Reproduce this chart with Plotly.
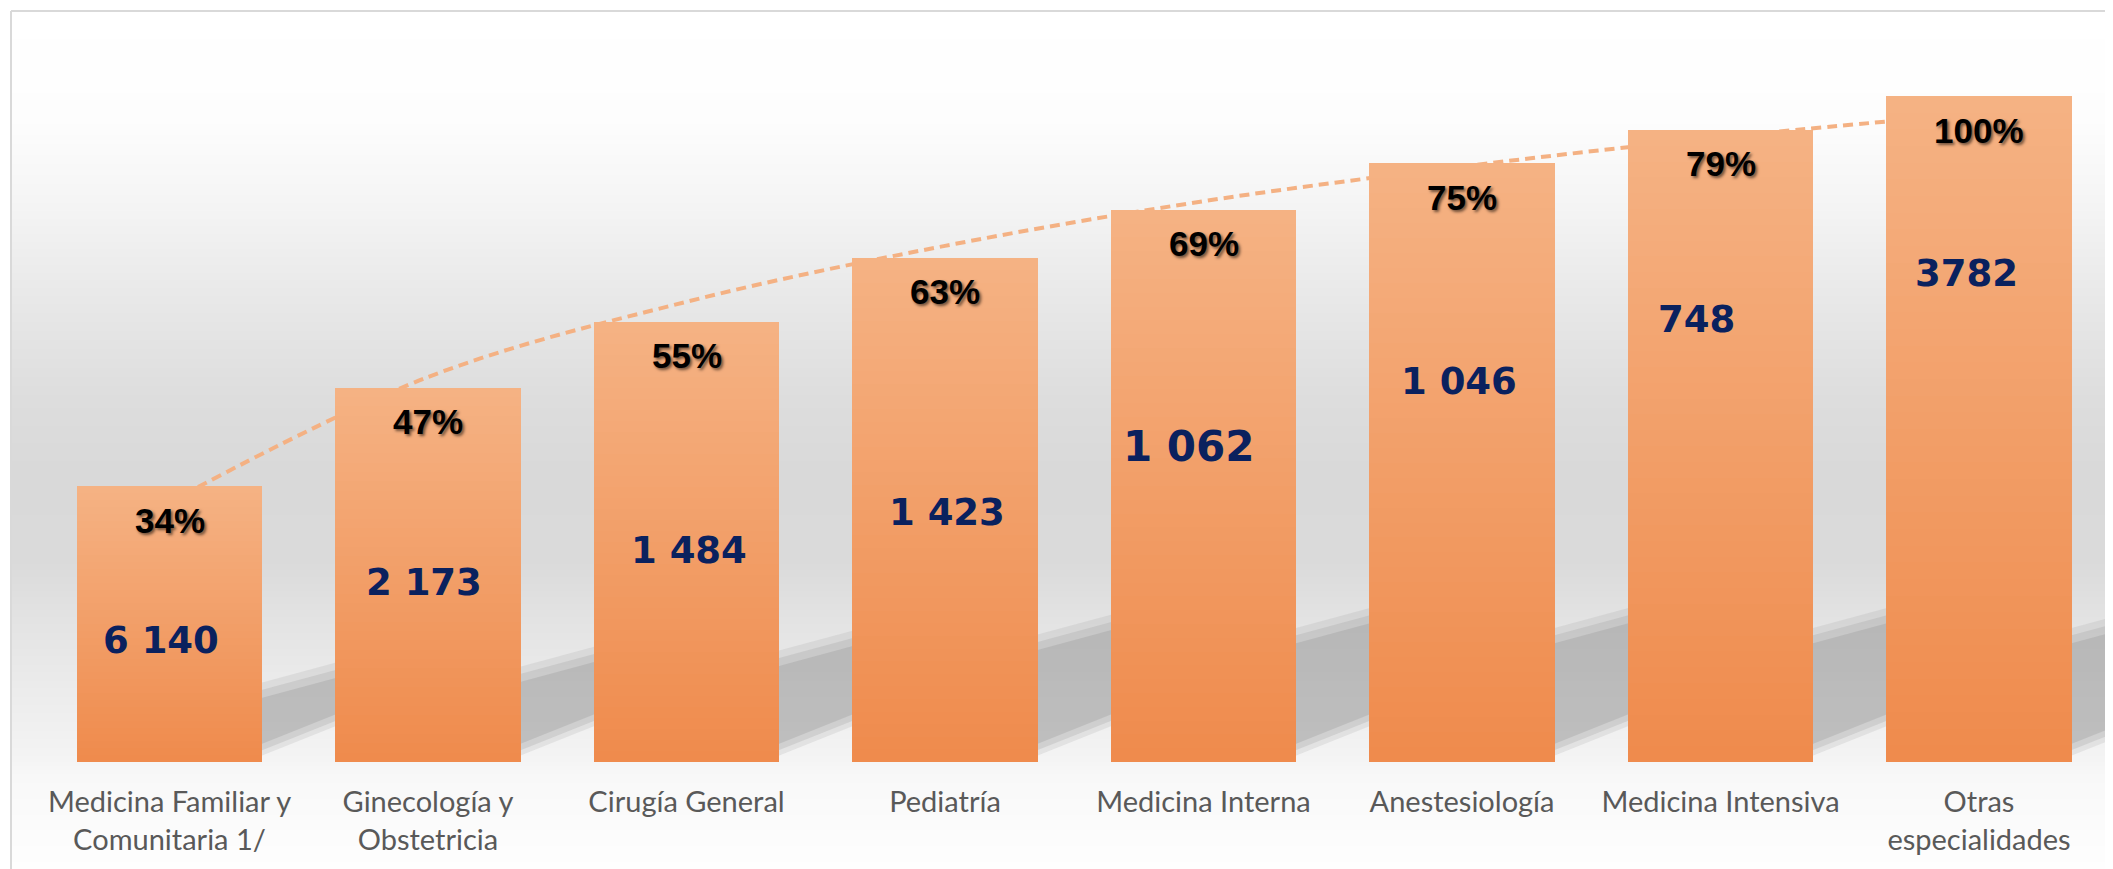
import base64
import struct
import zlib

import numpy as np
import plotly.graph_objects as go

# ---------------- data ----------------
categories = [
    "Medicina Familiar y<br>Comunitaria 1/",
    "Ginecología y<br>Obstetricia",
    "Cirugía General",
    "Pediatría",
    "Medicina Interna",
    "Anestesiología",
    "Medicina Intensiva",
    "Otras<br>especialidades",
]
counts = [6140, 2173, 1484, 1423, 1062, 1046, 748, 3782]
count_text = ["6 140", "2 173", "1 484", "1 423", "1 062", "1 046", "748", "3782"]
# visual bar heights as drawn in the picture (tallest bar = 100)
bar_level = [41.4, 56.2, 66.1, 75.7, 82.9, 89.9, 94.9, 100.0]
# dashed trend curve height at each category
trend_level = [39.0, 57.8, 69.1, 77.5, 84.2, 89.4, 93.8, 97.4]

cum_pct = np.round(np.cumsum(counts) / sum(counts) * 100).astype(int)

# ---------------- styling ----------------
BODY = 8  # default page margin of the html body
W, H = 2113 - BODY, 869 - BODY
M_L, M_R, M_T = 12 - BODY, 0, 12 - BODY
BASE_PX = 762 - BODY
M_B = H - BASE_PX
PX_PER_X = 258.5
PX_PER_Y = 6.66
plot_w = W - M_L - M_R
plot_h = H - M_T - M_B
x0 = -(169.5 - BODY - M_L) / PX_PER_X
x_range = [x0, x0 + plot_w / PX_PER_X]
y_range = [0, plot_h / PX_PER_Y]
BAR_W = 0.716

count_label_y = [18.2, 26.9, 31.8, 37.4, 47.4, 57.1, 66.4, 73.4]
count_label_dx = [-9, -4, 2, 2, -15, -3, -24, -13]
count_label_size = [37, 37, 37, 37, 42, 37, 37, 37]

TOP_COL = np.array([245, 178, 132])
BOT_COL = np.array([239, 139, 76])
N_BANDS = 40


def png_uri(rows_rgb):
    h = len(rows_rgb)
    w = 2
    raw = b"".join(b"\x00" + bytes(list(c) * w) for c in rows_rgb)

    def chunk(tag, data):
        return (struct.pack(">I", len(data)) + tag + data
                + struct.pack(">I", zlib.crc32(tag + data) & 0xFFFFFFFF))

    png = (b"\x89PNG\r\n\x1a\n"
           + chunk(b"IHDR", struct.pack(">IIBBBBB", w, h, 8, 2, 0, 0, 0))
           + chunk(b"IDAT", zlib.compress(raw))
           + chunk(b"IEND", b""))
    return "data:image/png;base64," + base64.b64encode(png).decode()


# background gradient (pixel rows from y=12 to y=869 of the screen)
stops_y = [12, 120, 200, 300, 400, 470, 560, 620, 700, 760, 775, 869]
stops_v = [255, 253, 245, 232, 221, 217, 218, 227, 237, 244, 248, 254]
ys = np.arange(12, 870)
vals = np.interp(ys, stops_y, stops_v).round().astype(int)
bg_uri = png_uri([(int(v), int(v), int(v)) for v in vals])

fig = go.Figure()

# dashed curve, behind the bars
fig.add_trace(go.Scatter(
    x=list(range(len(categories))), y=trend_level,
    mode="lines", line=dict(color="#f4b183", width=4, dash="10px,6px", shape="spline", smoothing=1.0),
    hoverinfo="skip", showlegend=False, zorder=-1,
))

# bars drawn as stacked bands to imitate the vertical gradient
for k in range(N_BANDS):
    t = (k + 0.5) / N_BANDS  # 0 bottom -> 1 top
    c = (BOT_COL + (TOP_COL - BOT_COL) * t).round().astype(int)
    fig.add_trace(go.Bar(
        x=list(range(len(categories))),
        y=[h / N_BANDS for h in bar_level],
        marker=dict(color=f"rgb({c[0]},{c[1]},{c[2]})", line=dict(width=0)),
        width=BAR_W, showlegend=False, hoverinfo="skip",
    ))

shapes = []
# soft floor shadows to the right of each bar
for i, h in enumerate(bar_level):
    xr = i + BAR_W / 2
    top = min(9.8 + 2.4 * i, 18.0)
    for grow, op in [(1.6, 0.16), (0.5, 0.2), (-0.7, 0.26)]:
        xa = xr - 0.05
        xb = xr + 0.55
        yb0 = max(1.4 - grow * 0.8, 0.2)
        yb1 = yb0 + 15.5 * (xb - xa)
        yt0 = top + grow
        yt1 = yt0 + 10.5 * (xb - xa)
        shapes.append(dict(
            type="path", xref="x", yref="y", layer="below",
            path=f"M{xa},{yb0} L{xa},{yt0} L{xb},{yt1} L{xb},{yb1} Z",
            fillcolor=f"rgba(140,140,140,{op})", line=dict(width=0),
        ))

# frame
fy = 1 + 1 / plot_h
fx = -1 / plot_w
shapes.append(dict(type="line", xref="paper", yref="paper",
                   x0=fx, x1=1.01, y0=fy, y1=fy,
                   line=dict(color="#d9d9d9", width=2), layer="above"))
shapes.append(dict(type="line", xref="paper", yref="paper",
                   x0=fx, x1=fx, y0=-0.2, y1=fy,
                   line=dict(color="#d9d9d9", width=2), layer="above"))

annotations = []
for i, p in enumerate(cum_pct):
    annotations.append(dict(
        x=i, y=bar_level[i], xref="x", yref="y", yshift=-34, yanchor="middle",
        text=f"{p}%", showarrow=False,
        font=dict(family="Liberation Sans, Arial, sans-serif", size=35, color="#000000",
                  weight="bold", shadow="2px 2px 3px rgba(0,0,0,0.55)"),
    ))
for i, t in enumerate(count_text):
    annotations.append(dict(
        x=i, y=count_label_y[i], xref="x", yref="y", xshift=count_label_dx[i],
        yanchor="middle", text=t, showarrow=False,
        font=dict(family="DejaVu Sans, Verdana, sans-serif", size=count_label_size[i],
                  color="#0a215e", weight="bold"),
    ))

fig.update_layout(
    width=W, height=H,
    margin=dict(l=M_L, r=M_R, t=M_T, b=M_B, pad=0),
    paper_bgcolor="#ffffff", plot_bgcolor="rgba(0,0,0,0)",
    barmode="stack", bargap=1 - BAR_W,
    showlegend=False,
    images=[dict(source=bg_uri, xref="paper", yref="paper", x=0, y=1,
                 sizex=1, sizey=(H - M_T) / plot_h, xanchor="left", yanchor="top",
                 sizing="stretch", layer="below")],
    shapes=shapes,
    annotations=annotations,
    xaxis=dict(range=x_range, tickvals=list(range(len(categories))), ticktext=categories,
               showgrid=False, zeroline=False, showline=False, ticks="",
               tickfont=dict(family="Lato, Open Sans, sans-serif", size=29, color="#595959"),
               ticklabelstandoff=20, fixedrange=True),
    yaxis=dict(range=y_range, visible=False, showgrid=False, zeroline=False, fixedrange=True),
)

fig.write_html("out.html")
